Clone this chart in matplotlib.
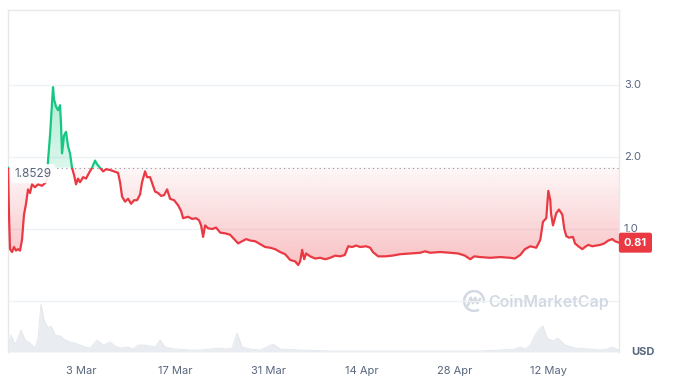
import numpy as np
import matplotlib
matplotlib.use("Agg")
import matplotlib.pyplot as plt
from matplotlib.patches import Rectangle, Arc
from matplotlib.transforms import blended_transform_factory

# day 0 = 20 Feb
days = [0, 0.15, 0.3, 0.6, 0.9, 1.2, 1.5, 1.8, 2.1, 2.4, 2.7, 3.0, 3.3, 3.6, 4.05, 4.5,
        5.1, 5.7, 5.85, 6.0, 6.3, 6.6, 6.75, 6.9, 7.2, 7.5, 7.8, 7.95, 8.1, 8.4, 8.7,
        9.0, 9.3, 9.6, 9.9, 10.2, 10.5, 10.8, 11.25, 11.7, 12.15, 12.6, 13.05, 13.35,
        13.8, 14.25, 14.7, 15.3, 15.9, 16.5, 16.8, 17.1, 17.55, 18.0, 18.45, 18.9,
        19.35, 19.8, 20.1, 20.55, 20.85, 21.3, 21.75, 22.05, 22.5, 22.95, 23.4, 23.85,
        24.3, 24.9, 25.5, 25.95, 26.25, 27.0, 27.6, 28.2, 28.65, 28.95, 29.25, 29.55,
        30.0, 30.6, 31.2, 31.8, 32.55, 33.3, 33.9, 34.5, 35.1, 35.7, 36.3, 37.05, 37.8,
        38.55, 39.3, 40.05, 40.8, 41.55, 42.3, 43.05, 43.5, 43.8, 44.1, 44.4, 44.7,
        45.3, 46.05, 46.8, 47.55, 48.3, 49.05, 49.8, 50.5, 51.0, 51.6, 52.2, 52.8,
        53.7, 54.3, 54.7, 55.5, 56.5, 57.6, 58.8, 60.3, 61.8, 62.5, 63.3, 64.8, 66.3,
        67.5, 68.5, 69.3, 69.9, 70.8, 72.3, 73.8, 75.3, 76.0, 76.8, 77.5, 78.3, 79.2,
        79.8, 80.2, 80.7, 81.0, 81.3, 81.4, 81.7, 82.2, 82.6, 83.1, 83.4, 83.7, 84.1,
        84.7, 85.0, 85.5, 86.1, 86.5, 87.0, 87.6, 88.2, 88.8, 89.4, 90.0, 90.6, 91.0,
        91.6]
price = [1.85, 1.20, 0.72, 0.68, 0.75, 0.70, 0.72, 0.70, 0.85, 1.20, 1.35, 1.55, 1.50,
         1.62, 1.58, 1.62, 1.60, 1.65, 1.72, 1.95, 2.30, 2.75, 2.97, 2.80, 2.70, 2.65,
         2.72, 2.45, 2.05, 2.30, 2.35, 2.15, 2.05, 1.85, 1.75, 1.62, 1.70, 1.65, 1.72,
         1.70, 1.78, 1.85, 1.95, 1.90, 1.85, 1.80, 1.83, 1.82, 1.80, 1.78, 1.65, 1.45,
         1.38, 1.42, 1.35, 1.40, 1.40, 1.48, 1.65, 1.80, 1.72, 1.72, 1.60, 1.52, 1.50,
         1.46, 1.47, 1.55, 1.42, 1.40, 1.33, 1.25, 1.15, 1.17, 1.14, 1.15, 1.12, 1.05,
         0.89, 1.05, 1.01, 1.00, 1.02, 0.95, 0.94, 0.92, 0.86, 0.80, 0.83, 0.86, 0.84,
         0.83, 0.79, 0.75, 0.74, 0.72, 0.68, 0.65, 0.57, 0.55, 0.50, 0.55, 0.71, 0.58,
         0.66, 0.62, 0.59, 0.60, 0.58, 0.60, 0.63, 0.62, 0.64, 0.76, 0.75, 0.77, 0.75,
         0.76, 0.74, 0.68, 0.62, 0.62, 0.63, 0.65, 0.66, 0.67, 0.69, 0.67, 0.68, 0.67,
         0.66, 0.63, 0.58, 0.62, 0.61, 0.60, 0.61, 0.60, 0.59, 0.64, 0.72, 0.76, 0.74,
         0.85, 1.10, 1.15, 1.53, 1.40, 1.22, 1.05, 1.22, 1.27, 1.20, 1.00, 0.90, 0.88,
         0.89, 0.80, 0.76, 0.72, 0.75, 0.78, 0.76, 0.77, 0.78, 0.80, 0.84, 0.86, 0.83,
         0.81]

vol_days = [0, 0.45, 1.05, 1.95, 2.55, 3.3, 4.05, 4.5, 4.95, 5.4, 6.0, 6.45, 7.05, 7.8,
            8.55, 9.3, 10.05, 10.8, 11.55, 12.3, 13.35, 14.25, 15.3, 16.05, 16.8, 17.85,
            18.75, 19.5, 20.55, 22.05, 22.8, 23.55, 25.05, 27.3, 28.8, 30.3, 31.8, 32.55,
            33.6, 34.35, 35.1, 36.3, 37.8, 39.75, 40.8, 43.8, 48.3, 54.3, 61.8, 70.8,
            73.8, 76.0, 76.8, 77.5, 78.3, 79.0, 79.8, 80.2, 80.8, 81.7, 82.4, 83.5, 85.0,
            87.2, 88.8, 89.8, 90.6, 91.6]
volume = [5, 17, 7, 22, 12, 9, 4, 14, 48, 32, 24, 26, 17, 16, 12, 10, 9, 7, 5, 4, 12, 7,
          10, 6, 4, 5, 3, 7, 7, 5, 12, 5, 3, 2, 2, 3, 4, 3, 4, 19, 5, 3, 2, 8, 3, 2, 1, 1,
          1, 1, 2, 3, 5, 3, 7, 17, 24, 26, 14, 11, 14, 7, 4, 3, 2, 3, 5, 2]

baseline = 1.8529
last_price = 0.81
yticks = [1.0, 2.0, 3.0]
xtick_days = [11, 25, 39, 53, 67, 81]
xtick_labels = ["3 Mar", "17 Mar", "31 Mar", "14 Apr", "28 Apr", "12 May"]

RED = "#ea3943"
GREEN = "#16c784"
GRID = "#eff2f5"
TXT = "#58667e"

plt.rcParams["font.family"] = ["Inter", "DejaVu Sans"]

W, H = 674, 388
fig = plt.figure(figsize=(W / 100, H / 100), dpi=100)
left, right, top, bottom = 8, 619, 10, 352
ax = fig.add_axes([left / W, (H - bottom) / H, (right - left) / W, (bottom - top) / H])
ylim = ((301 - bottom) / 72, (301 - top) / 72)

# volume area in the lower band
axv = ax.twinx()
axv.set_ylim(0, bottom - top)
axv.fill_between(vol_days, volume, 0, color="#e9ecf0", lw=0)
axv.plot(vol_days, volume, color="#e1e5eb", lw=0.6)
axv.axis("off")
ax.set_zorder(axv.get_zorder() + 1)
ax.patch.set_visible(False)

d = np.array(days)
p = np.array(price)


# gradient fill clipped to the area between line and baseline
def gradient_fill(edge, color, y0, y1, a0, a1):
    poly = ax.fill_between(d, edge, baseline, color="none", lw=0)
    img = np.zeros((256, 1, 4))
    img[:, 0, :3] = matplotlib.colors.to_rgb(color)
    img[:, 0, 3] = np.linspace(a0, a1, 256)
    im = ax.imshow(img, aspect="auto", extent=[d[0], d[-1], y0, y1],
                   origin="lower", zorder=1)
    im.set_clip_path(poly.get_paths()[0], transform=ax.transData)


gradient_fill(np.minimum(p, baseline), RED, 0.45, baseline, 0.32, 0.04)
gradient_fill(np.maximum(p, baseline), GREEN, baseline, 3.0, 0.15, 0.35)

ax.set_xlim(days[0], days[-1])
ax.set_ylim(*ylim)

# price line, red below baseline, green above
lo = Rectangle((d[0], -5), d[-1] - d[0], baseline + 5, transform=ax.transData)
hi = Rectangle((d[0], baseline), d[-1] - d[0], 10, transform=ax.transData)
l1, = ax.plot(d, p, color=RED, lw=1.6, zorder=3, solid_joinstyle="round")
l1.set_clip_path(lo)
l2, = ax.plot(d, p, color=GREEN, lw=1.6, zorder=3, solid_joinstyle="round")
l2.set_clip_path(hi)

ax.axhline(baseline, color="#8a93a3", lw=0.8, ls=(0, (1, 3)), zorder=2)
ax.text(1.0, baseline, "1.8529", color=TXT, fontsize=8.5, ha="left", va="top",
        zorder=4, bbox=dict(boxstyle="round,pad=0.3", fc="white", ec="none", alpha=0.9))

# grid and frame
for yv in [0.0] + yticks:
    ax.axhline(yv, color=GRID, lw=1, zorder=0)
for s in ["left", "right", "top"]:
    ax.spines[s].set_color("#e6e8ec")
    ax.spines[s].set_linewidth(1)
ax.spines["bottom"].set_visible(False)
ax.set_yticks([])
ax.set_xticks(xtick_days)
ax.set_xticklabels(xtick_labels, color=TXT, fontsize=8)
ax.tick_params(axis="x", length=0, pad=10)

tr = blended_transform_factory(ax.transAxes, ax.transData)
for yv in yticks:
    ax.text(1.008, yv, f"{yv:.1f}", transform=tr, color=TXT, fontsize=8,
            ha="left", va="center")
ax.text(1.008, last_price, f"{last_price:.2f}", transform=tr, color="white",
        fontsize=8, fontweight="bold", ha="left", va="center", zorder=5,
        bbox=dict(boxstyle="round,pad=0.45,rounding_size=0.2", fc=RED, ec="none"))
ax.text(1.02, 0.0, "USD", transform=ax.transAxes, color=TXT, fontsize=8,
        fontweight="bold", ha="left", va="center")

# watermark
wm = "#d3d9e3"
fig.text(488 / W, 1 - 302 / H, "CoinMarketCap", color=wm, fontsize=11.5,
         fontweight="semibold", ha="left", va="center")
axl = fig.add_axes([463 / W, 1 - 312 / H, 22 / W, 22 / H])
axl.set_xlim(-1, 1)
axl.set_ylim(-1, 1)
axl.axis("off")
axl.add_patch(Arc((0, 0), 1.8, 1.8, theta1=-10, theta2=300, color=wm, lw=1.8))
axl.plot([-0.55, -0.3, -0.1, 0.1, 0.3, 0.55], [-0.4, 0.3, -0.2, 0.3, -0.2, 0.2],
         color=wm, lw=1.8, solid_joinstyle="round", solid_capstyle="round")

fig.savefig("out.png", dpi=100)
